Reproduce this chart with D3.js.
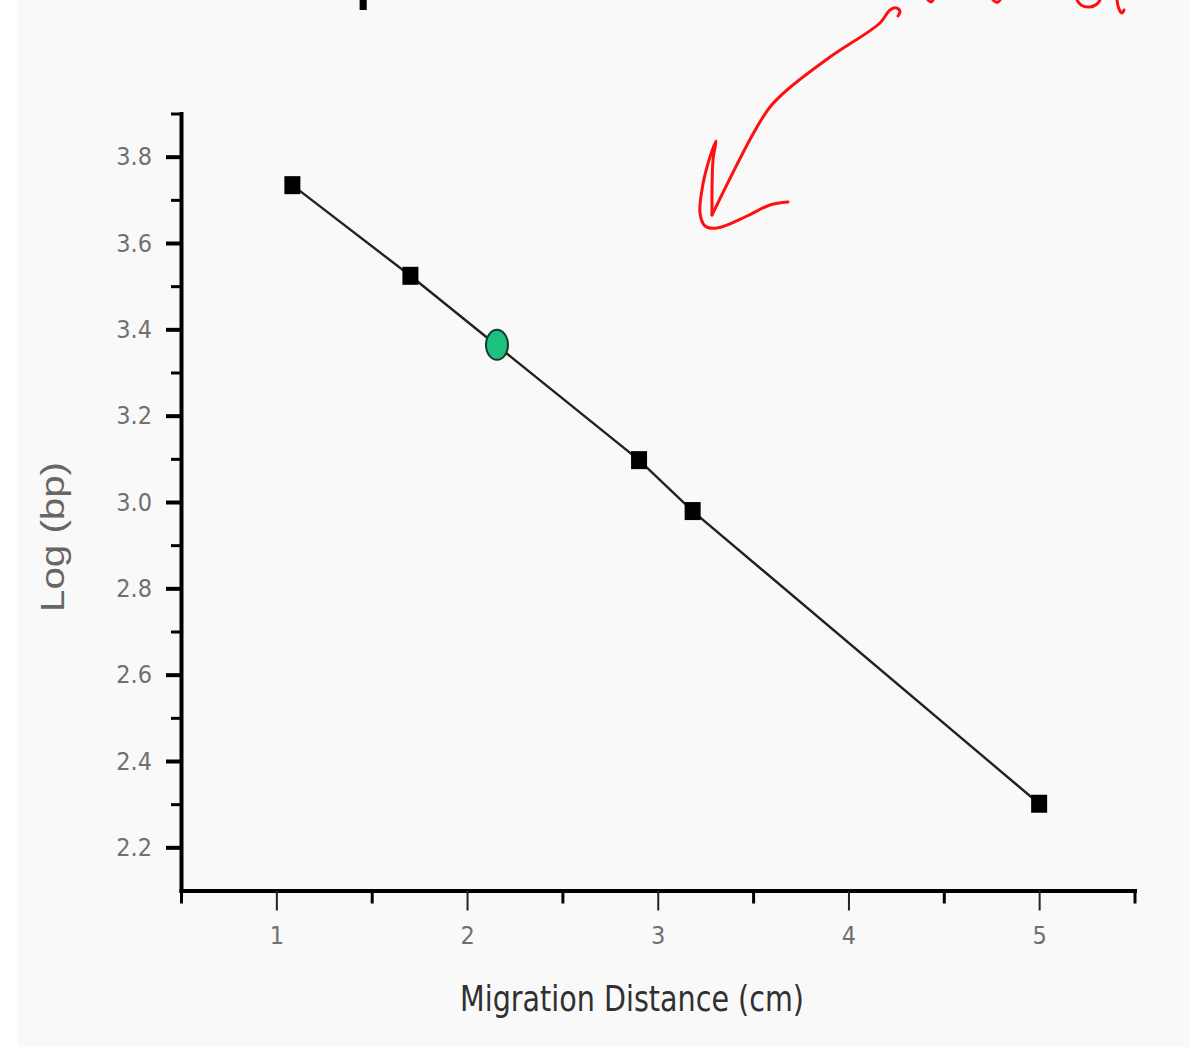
<!DOCTYPE html>
<html>
<head>
<meta charset="utf-8">
<script src="https://cdn.jsdelivr.net/npm/d3@7"></script>
<style>
  html, body { margin: 0; padding: 0; background: #ffffff; }
  svg { display: block; }
  .narrow { font-family: "Liberation Sans Narrow", "Arial Narrow", "DejaVu Sans Condensed", sans-serif; }
</style>
</head>
<body>
<svg id="chart"></svg>
<script>
// ── data ───────────────────────────────────────────────────────────────────
const distances   = [1.084, 1.703, 2.902, 3.183, 5.0];     // cm, DNA ladder bands
const logBp       = [3.734, 3.524, 3.097, 2.979, 2.301];   // log10(bp)
const unknownDist = [2.157];                                 // sample band
const unknownLog  = [3.364];
const xTicks      = [1, 2, 3, 4, 5];
const xMinor      = [0.5, 1.5, 2.5, 3.5, 4.5, 5.5];
const yTicks      = [2.2, 2.4, 2.6, 2.8, 3.0, 3.2, 3.4, 3.6, 3.8];
const yMinor      = [2.3, 2.5, 2.7, 2.9, 3.1, 3.3, 3.5, 3.7, 3.9];

// hand-drawn red annotation (screen sketch, not data)
const arrowStroke = [[898, 16], [900, 11.5], [896.5, 8], [890, 10], [880, 23], [830, 57], [787, 90], [770, 107], [753, 134], [712, 215]];
const arrowHead   = [[712, 215], [713, 160], [716, 141], [710, 157], [703, 184], [700, 213], [705, 226], [717, 228], [747, 216], [770, 205], [788, 202]];
const scribbles   = [
  [[928, 0], [931, 2], [933, 0]],
  [[993, 0], [997, 2.5], [1000, 0]],
  [[1077, 0], [1081, 5], [1090, 7], [1097, 4], [1100, 0]],
  [[1117, 0], [1119, 9], [1122, 13], [1124, 10]]
];

const W = 1190, H = 1047;
const svg = d3.select("#chart").attr("width", W).attr("height", H);

svg.append("rect").attr("x", 17).attr("y", 0).attr("width", W - 17).attr("height", H).attr("fill", "#f9f9f9");

// cut-off title: only the descender of the "p" shows at the very top
svg.append("text").attr("x", 356).attr("y", -1.5).attr("font-family", "Liberation Sans, Arial, sans-serif")
  .attr("font-weight", "bold").attr("font-size", 52).attr("fill", "#000").text("p");

const x = d3.scaleLinear().domain([0.5, 5.5]).range([181, 1134.5]);
const y = d3.scaleLinear().domain([2.1, 3.9]).range([890.5, 113.5]);

const axisColor = "#000";

// y axis: minor ticks, then major ticks + labels
const yMin = svg.append("g").attr("transform", `translate(${x(0.5)},0)`)
  .call(d3.axisLeft(y).tickValues(yMinor).tickSize(10).tickSizeOuter(0).tickFormat(""));
yMin.select(".domain").remove();
yMin.selectAll(".tick line").attr("stroke", axisColor).attr("stroke-width", 3);

const yAx = svg.append("g").attr("transform", `translate(${x(0.5)},0)`)
  .call(d3.axisLeft(y).tickValues(yTicks).tickSize(15).tickSizeOuter(0).tickPadding(14).tickFormat(d3.format(".1f")));
yAx.select(".domain").attr("stroke", axisColor).attr("stroke-width", 4).attr("stroke-linecap", "square");
yAx.selectAll(".tick line").attr("stroke", axisColor).attr("stroke-width", 4);
yAx.selectAll(".tick text").attr("class", "narrow").attr("font-size", 25).attr("fill", "#707070");

// x axis
const xMin = svg.append("g").attr("transform", `translate(0,${y(2.1)})`)
  .call(d3.axisBottom(x).tickValues(xMinor).tickSize(13).tickSizeOuter(0).tickFormat(""));
xMin.select(".domain").remove();
xMin.selectAll(".tick line").attr("stroke", axisColor).attr("stroke-width", 3);

const xAx = svg.append("g").attr("transform", `translate(0,${y(2.1)})`)
  .call(d3.axisBottom(x).tickValues(xTicks).tickSize(20).tickSizeOuter(0).tickPadding(16).tickFormat(d3.format("d")));
xAx.select(".domain").attr("stroke", axisColor).attr("stroke-width", 4).attr("stroke-linecap", "square");
xAx.selectAll(".tick line").attr("stroke", "#222").attr("stroke-width", 2);
xAx.selectAll(".tick text").attr("class", "narrow").attr("font-size", 25).attr("fill", "#707070");

// axis titles
svg.append("text").attr("class", "narrow").attr("x", 632).attr("y", 1011).attr("text-anchor", "middle")
  .attr("font-size", 36).attr("fill", "#303030").attr("textLength", 344).attr("lengthAdjust", "spacingAndGlyphs")
  .text("Migration Distance (cm)");
svg.append("text").attr("transform", "translate(64,537) rotate(-90)").attr("text-anchor", "middle")
  .attr("font-family", "Liberation Sans, Arial, sans-serif").attr("font-size", 34).attr("fill", "#666")
  .attr("textLength", 150).attr("lengthAdjust", "spacingAndGlyphs").text("Log (bp)");

// standard curve through the ladder bands
const pts = distances.map((d, i) => ({ x: d, y: logBp[i] }));
svg.append("path").datum(pts).attr("fill", "none").attr("stroke", "#222").attr("stroke-width", 2.4)
  .attr("d", d3.line().x(d => x(d.x)).y(d => y(d.y)));

svg.selectAll("rect.std").data(pts).join("rect").attr("class", "std")
  .attr("x", d => x(d.x) - 8).attr("y", d => y(d.y) - 9).attr("width", 16).attr("height", 18).attr("fill", "#000");

svg.selectAll("ellipse.unknown").data(unknownDist.map((d, i) => ({ x: d, y: unknownLog[i] }))).join("ellipse")
  .attr("class", "unknown").attr("cx", d => x(d.x)).attr("cy", d => y(d.y)).attr("rx", 11).attr("ry", 15)
  .attr("fill", "#1fbf7f").attr("stroke", "#163a2a").attr("stroke-width", 2);

// red pen annotation
const pen = d3.line().curve(d3.curveCatmullRom.alpha(0.5));
const red = svg.append("g").attr("fill", "none").attr("stroke", "#ff1010").attr("stroke-width", 3)
  .attr("stroke-linecap", "round").attr("stroke-linejoin", "round");
red.append("path").attr("d", pen(arrowStroke));
red.append("path").attr("d", pen(arrowHead));
scribbles.forEach(s => red.append("path").attr("d", pen(s)));
</script>
</body>
</html>
